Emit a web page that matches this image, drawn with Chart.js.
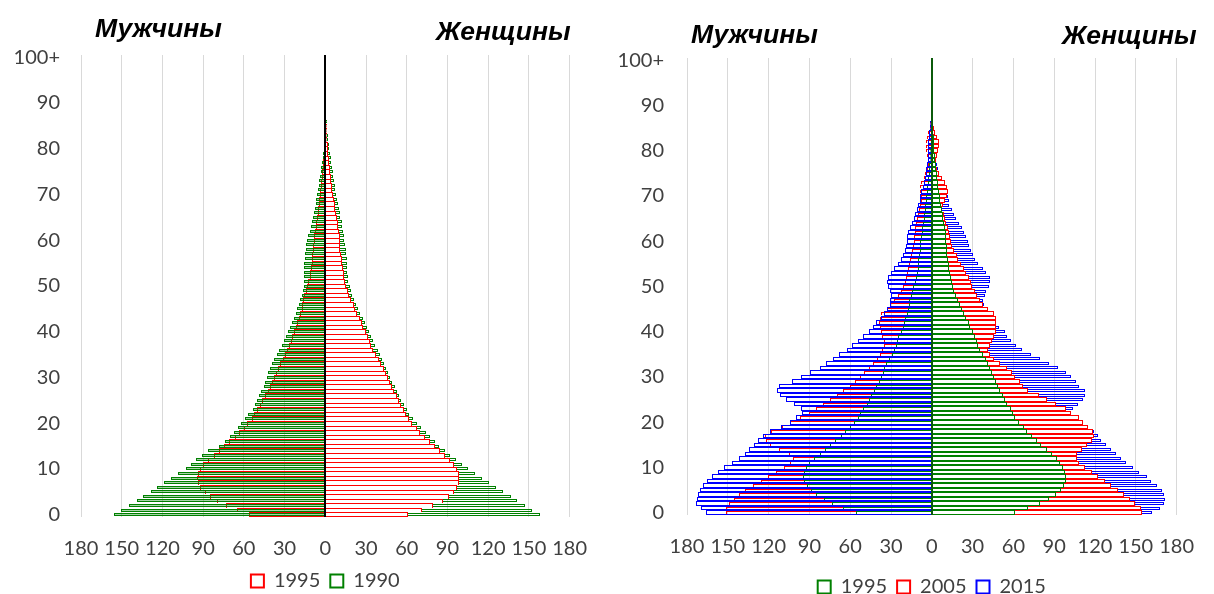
<!DOCTYPE html>
<html lang="ru">
<head>
<meta charset="UTF-8">
<title>Половозрастные пирамиды</title>
<script src="https://cdn.jsdelivr.net/npm/chart.js"></script>
<style>
  body { margin: 0; background: #fff; }
  .wrap { position: relative; width: 1214px; height: 594px; overflow: hidden; }
  .panel { position: absolute; top: 0; width: 607px; height: 594px; }
  .title { position: absolute; font: italic bold 26.5px "Liberation Sans", Arial, sans-serif; line-height: 26px; color: #000; white-space: nowrap; }
</style>
</head>
<body>
<div class="wrap">
  <div class="panel" style="left:0"><canvas id="pyramidLeft" width="607" height="594"></canvas></div>
  <div class="panel" style="left:607px"><canvas id="pyramidRight" width="607" height="594"></canvas></div>
  <div class="title" style="left:95px;top:15px">Мужчины</div>
  <div class="title" style="left:436px;top:18px">Женщины</div>
  <div class="title" style="left:691px;top:21px">Мужчины</div>
  <div class="title" style="left:1062px;top:22px">Женщины</div>
</div>

<script>
// age groups, 0 ... 100+
const ages = Array.from({length: 101}, (_, i) => i === 100 ? '100+' : String(i));

// thousands of people by single year of age
const male1990 = [
  156, 150.5, 145, 139, 134, 128.5, 124, 118.5, 113.5, 108.5,
  103, 99, 95, 90.5, 86.5, 78.5, 74, 70, 67, 64,
  62, 59.5, 57, 53, 51.5, 50, 48.5, 47.5, 45.5, 44.5,
  43, 42, 40.5, 39, 37.5, 35.5, 34, 32, 30.5, 29,
  27.5, 26, 24.5, 23, 21.5, 20.5, 19.5, 18.5, 17.5, 16.5,
  16, 15.5, 15.5, 15.5, 15.5, 15.5, 15, 15, 14.5, 14,
  13.5, 12.5, 11.5, 10.5, 10, 9, 8.5, 7.5, 7, 6.5,
  6, 5.5, 5, 4.5, 3.8, 3.2, 2.8, 2.5, 2, 1.6,
  1.3, 1.1, 1, 0.9, 0.8, 0.6, 0.5, 0.45, 0.4, 0.35,
  0.3, 0.25, 0.22, 0.2, 0.18, 0.16, 0.14, 0.12, 0.1, 0.1,
  0.1
];
const female1990 = [
  158, 152.5, 147, 141.5, 136.5, 131, 125.5, 120.5, 115.5, 110.5,
  105.5, 100.5, 96, 92, 88, 84, 80.5, 77, 74, 70.5,
  67.5, 64.5, 62, 60, 58, 56, 54.5, 52.5, 51, 49.5,
  48, 46.5, 45, 43.5, 42, 40, 38.5, 36.5, 35, 33.5,
  32, 30.5, 29, 27.5, 25.5, 24, 22.5, 21, 20, 19,
  18, 17, 16.5, 16, 16, 16, 16, 15.5, 15, 14.5,
  14, 13.5, 13, 12.5, 12, 11, 10.5, 10, 9, 8.5,
  8, 7.5, 7, 6.5, 6, 5.5, 5, 4.5, 4, 3.5,
  3, 2.6, 2.2, 1.8, 1.4, 1.1, 0.9, 0.7, 0.6, 0.5,
  0.4, 0.35, 0.3, 0.25, 0.22, 0.2, 0.17, 0.15, 0.12, 0.1,
  0.1
];
const male1995 = [
  56, 65, 73.5, 79.5, 85, 89, 92, 94, 94.5, 94,
  92.5, 90, 86.5, 82, 78.5, 74.5, 71, 66.5, 63.5, 60,
  57.5, 54, 52.5, 50.5, 48, 46.5, 44.5, 42.5, 41, 39,
  37.5, 36, 35, 33.5, 31.5, 29.5, 28, 26.5, 25.5, 24.5,
  23, 21.5, 20.5, 19.5, 18.5, 17.5, 17, 16.5, 15.5, 14.5,
  13.5, 12.5, 11.5, 11, 10.5, 10, 10, 9.5, 9, 8.7,
  8.5, 8, 7.5, 7, 6.5, 6, 5.5, 5.2, 4.8, 4.5,
  4, 3.6, 3.3, 3, 2.6, 2.3, 2, 1.7, 1.5, 1.2,
  1, 0.9, 0.8, 0.7, 0.6, 0.5, 0.45, 0.4, 0.35, 0.3,
  0.25, 0.22, 0.2, 0.18, 0.16, 0.14, 0.12, 0.1, 0.1, 0.1,
  0.1
];
const female1995 = [
  61, 71, 79.5, 86.5, 91, 94.7, 97.3, 98.6, 98.8, 98.3,
  96.8, 94.5, 92, 88.5, 84.5, 80.5, 77, 73.5, 70, 67.5,
  64, 61.5, 59.5, 58, 55.5, 54, 52.5, 50.5, 49, 47.5,
  46, 44.5, 43, 41, 39.5, 37.5, 35.5, 34, 33, 31.5,
  30, 28, 27, 25.5, 23.5, 22, 21, 19, 17.5, 16.5,
  15.5, 14.5, 14, 13.5, 13, 12.5, 12, 11.5, 11, 11,
  10.8, 10.6, 10.2, 9.7, 9.1, 8.5, 8, 7.4, 6.9, 6.3,
  5.8, 5.3, 4.8, 4.4, 4, 3.6, 3.2, 2.8, 2.5, 2.2,
  1.9, 1.7, 1.5, 1.3, 1.1, 0.9, 0.75, 0.6, 0.5, 0.4,
  0.35, 0.3, 0.25, 0.22, 0.2, 0.17, 0.15, 0.12, 0.1, 0.1,
  0.1
];
const male2005 = [
  151.5, 151.5, 149, 145.5, 142, 137, 131.5, 125.5, 120.5, 114.5,
  108.5, 104, 102, 105, 112, 119, 122, 122.5, 118.5, 110.5,
  104, 97, 90.5, 85, 80, 75, 69.5, 65, 60, 56.5,
  53, 49.5, 46, 43, 40, 38, 36.5, 35, 35.5, 36.5,
  37.5, 38, 38.5, 38, 37, 33, 31, 28, 25, 23,
  21, 19.7, 18.8, 18, 17.3, 16.5, 15.8, 15, 14.2, 13.6,
  13.2, 12.8, 12.4, 12, 11.5, 11, 10.2, 9.4, 8.6, 8,
  8.3, 8.7, 8.6, 7.8, 6, 4.8, 3.5, 2.5, 2.6, 3.5,
  4.2, 4.6, 4.6, 3.8, 2.6, 1.6, 1, 0.7, 0.5, 0.4,
  0.3, 0.25, 0.2, 0.18, 0.15, 0.12, 0.1, 0.1, 0.1, 0.1,
  0.1
];
const female2005 = [
  154.5, 153.5, 149.5, 146, 141, 137, 132, 127, 122.5, 118,
  113, 108, 107, 106.5, 110.5, 114, 118, 119, 118.5, 115,
  111, 108, 102.5, 99, 91.5, 84.5, 78.5, 71, 67, 64.5,
  61, 59, 55, 50, 45.5, 43, 41.5, 43, 44.5, 46,
  47, 47.5, 47.5, 47, 45.5, 41, 38, 35.5, 33.5, 32,
  29.5, 28.5, 27, 25, 23.5, 21.5, 19.5, 18.5, 16.5, 15,
  14.2, 13.2, 12.5, 12, 10.5, 9.5, 8.8, 7.8, 8, 10,
  11.5, 12, 11, 9.5, 7.5, 5.5, 4, 3.3, 3.3, 4,
  4.8, 5.2, 5, 4, 2.6, 1.5, 1, 0.7, 0.5, 0.4,
  0.3, 0.25, 0.2, 0.18, 0.15, 0.12, 0.1, 0.1, 0.1, 0.1,
  0.1
];
const male2015 = [
  166, 170, 173.5, 173, 172, 170.5, 168.5, 165, 161.5, 157,
  152.5, 147, 141.5, 137.5, 134.5, 130.5, 127.5, 124, 119, 111,
  104, 99.5, 95.5, 96.5, 101.5, 107.5, 111.5, 114, 112.5, 103,
  96.5, 89.5, 82.5, 77.5, 73, 68.5, 62.5, 59, 54.5, 50.5,
  46.5, 43, 41, 37.5, 35, 33, 31, 30.5, 30, 31,
  32, 33, 32.5, 30, 28, 25, 22.5, 21, 20, 19,
  18.5, 18, 17.3, 16, 14.5, 13, 12, 11, 10, 9,
  8.5, 7.8, 6.8, 5.8, 5, 4.6, 4, 3.5, 3.1, 3,
  3, 2.7, 2.5, 2.3, 2, 1.6, 1.2, 0.9, 0.7, 0.5,
  0.4, 0.35, 0.3, 0.25, 0.2, 0.18, 0.15, 0.12, 0.1, 0.1,
  0.1
];
const female2015 = [
  162, 167.5, 170.5, 171.5, 171, 169.5, 165.5, 161.5, 158, 152.5,
  148, 143, 139, 135.5, 131.5, 128, 124.5, 122, 119, 112,
  108, 104, 101, 104, 107.5, 111.5, 113, 112.5, 108.5, 106,
  102.5, 99, 93, 86.5, 79.5, 73, 66.5, 62, 58, 55,
  53.5, 49.5, 47, 45.5, 43, 40.5, 38.5, 38, 39, 40,
  42, 43, 42.5, 40, 38, 34, 32, 30, 28.5, 27.5,
  26.5, 25.5, 23.5, 22, 20, 18, 16, 14.5, 13, 12.3,
  12, 10.5, 9, 7, 5.5, 4.7, 4.2, 3.6, 3.3, 3,
  2.8, 2.5, 2.2, 1.8, 1.5, 1.2, 0.9, 0.7, 0.5, 0.4,
  0.35, 0.3, 0.25, 0.2, 0.18, 0.15, 0.12, 0.1, 0.1, 0.1,
  0.1
];

const xTicks = { min: -180, max: 180, step: 30 };
const leftLegend = ['1995', '1990'];
const rightLegend = ['1995', '2005', '2015'];

const RED = '#ff0000', GREEN = '#008000', BLUE = '#0000ff';
const tickFont = { family: 'Lato, "Liberation Sans", sans-serif', size: 20 };
const tickColor = '#404040';

// only the top edge of each bar (rows share it), plus the bottom edge of the lowest row
const topEdges = c => ({ top: 1, bottom: c.dataIndex === 0 ? 1 : 0, left: 1, right: 1 });
const topOnly = { top: 1, bottom: 0, left: 1, right: 1 };

// vertical line at zero, drawn over the bars
const zeroLine = {
  id: 'zeroLine',
  afterDatasetsDraw(chart, args, opts) {
    const { ctx, chartArea, scales } = chart;
    const px = Math.round(scales.x.getPixelForValue(0));
    ctx.save();
    ctx.strokeStyle = opts.color;
    ctx.lineWidth = opts.width;
    ctx.beginPath();
    ctx.moveTo(px, chartArea.top);
    ctx.lineTo(px, chartArea.bottom);
    ctx.stroke();
    ctx.restore();
  }
};

// snap bar edges to whole pixels so the thin outlines stay crisp:
// full-row bars keep tiling, thinner bars keep one fixed height
const snapBars = {
  id: 'snapBars',
  beforeDatasetsDraw(chart) {
    chart.getSortedVisibleDatasetMetas().forEach(meta => {
      const full = chart.data.datasets[meta.index].barPercentage >= 1;
      meta.data.forEach(bar => {
        let top, h;
        if (full) {
          top = Math.round(bar.y - bar.height / 2);
          h = Math.max(1, Math.round(bar.y + bar.height / 2) - top);
        } else {
          h = Math.max(1, Math.round(bar.height));
          top = Math.round(bar.y - h / 2);
        }
        bar.y = top + h / 2;
        bar.height = h;
        bar.x = Math.round(bar.x);
        bar.base = Math.round(bar.base);
      });
    });
  }
};

// men go to the left as negative values
function series(label, values, color, side, o) {
  return {
    label: label,
    data: values.map(v => side === 'm' ? -v : v),
    borderColor: color,
    backgroundColor: o.fill || 'rgba(255,255,255,0)',
    borderWidth: o.bw,
    barPercentage: o.bp,
    categoryPercentage: 1,
    inflateAmount: 0,
    grouped: false,
    order: o.order
  };
}

function pyramid(id, datasets, legendYears, o) {
  return new Chart(document.getElementById(id), {
    type: 'bar',
    data: { labels: ages, datasets: datasets },
    plugins: [snapBars, zeroLine],
    options: {
      indexAxis: 'y',
      responsive: false,
      animation: false,
      events: [],
      layout: { padding: { top: o.top, right: o.right, bottom: 0, left: 0 } },
      scales: {
        x: {
          type: 'linear',
          min: xTicks.min,
          max: xTicks.max,
          border: { display: false },
          grid: {
            drawTicks: false,
            color: c => (c.tick && c.tick.value === 0) ? 'rgba(0,0,0,0)' : '#d9d9d9'
          },
          ticks: {
            stepSize: xTicks.step,
            autoSkip: false,
            maxRotation: 0,
            padding: 20,
            font: tickFont,
            color: tickColor,
            callback: v => Math.abs(v)
          },
          afterFit: s => { s.height = o.xHeight; }
        },
        y: {
          type: 'category',
          reverse: true,
          border: { display: false },
          grid: { display: false, drawTicks: false },
          ticks: {
            autoSkip: false,
            padding: o.yPad,
            font: tickFont,
            color: tickColor,
            callback: function (v, i) { return i % 10 === 0 ? this.getLabelForValue(v) : ''; }
          },
          afterFit: s => { s.width = o.yWidth; }
        }
      },
      plugins: {
        tooltip: { enabled: false },
        zeroLine: { color: o.zeroColor, width: 2 },
        legend: {
          position: 'bottom',
          fullSize: false,
          maxHeight: o.legendHeight,
          labels: {
            boxWidth: 13,
            boxHeight: 13,
            padding: 10,
            font: tickFont,
            color: tickColor,
            generateLabels: chart => legendYears.map(y => {
              const i = chart.data.datasets.findIndex(d => d.label === y);
              return {
                text: y,
                fillStyle: '#ffffff',
                strokeStyle: chart.data.datasets[i].borderColor,
                lineWidth: 2,
                fontColor: tickColor,
                datasetIndex: i
              };
            })
          }
        }
      }
    }
  });
}

pyramid('pyramidLeft', [
  series('1990', male1990, GREEN, 'm', { bw: 1, bp: 0.65, order: 0, fill: 'rgba(0,128,0,0.35)' }),
  series('1995', male1995, RED, 'm', { bw: topEdges, bp: 1, order: 1 }),
  series('1995', female1995, RED, 'f', { bw: topEdges, bp: 1, order: 0, fill: '#ffffff' }),
  series('1990', female1990, GREEN, 'f', { bw: 1, bp: 0.6, order: 1 })
], leftLegend, { top: 55, right: 20, yWidth: 81, yPad: 21, xHeight: 44, legendHeight: 33, zeroColor: '#000000' });

pyramid('pyramidRight', [
  series('2015', male2015, BLUE, 'm', { bw: 1, bp: 1, order: 0 }),
  series('1995', male1995, GREEN, 'm', { bw: topOnly, bp: 0.6, order: 1 }),
  series('2005', male2005, RED, 'm', { bw: topOnly, bp: 0.6, order: 2 }),
  series('1995', female1995, GREEN, 'f', { bw: 1, bp: 1, order: 0, fill: '#ffffff' }),
  series('2005', female2005, RED, 'f', { bw: 1, bp: 1, order: 1, fill: '#ffffff' }),
  series('2015', female2015, BLUE, 'f', { bw: 1, bp: 0.7, order: 2 })
], rightLegend, { top: 58, right: 22, yWidth: 80, yPad: 23, xHeight: 52, legendHeight: 27, zeroColor: '#0b5a0b' });
</script>
</body>
</html>
